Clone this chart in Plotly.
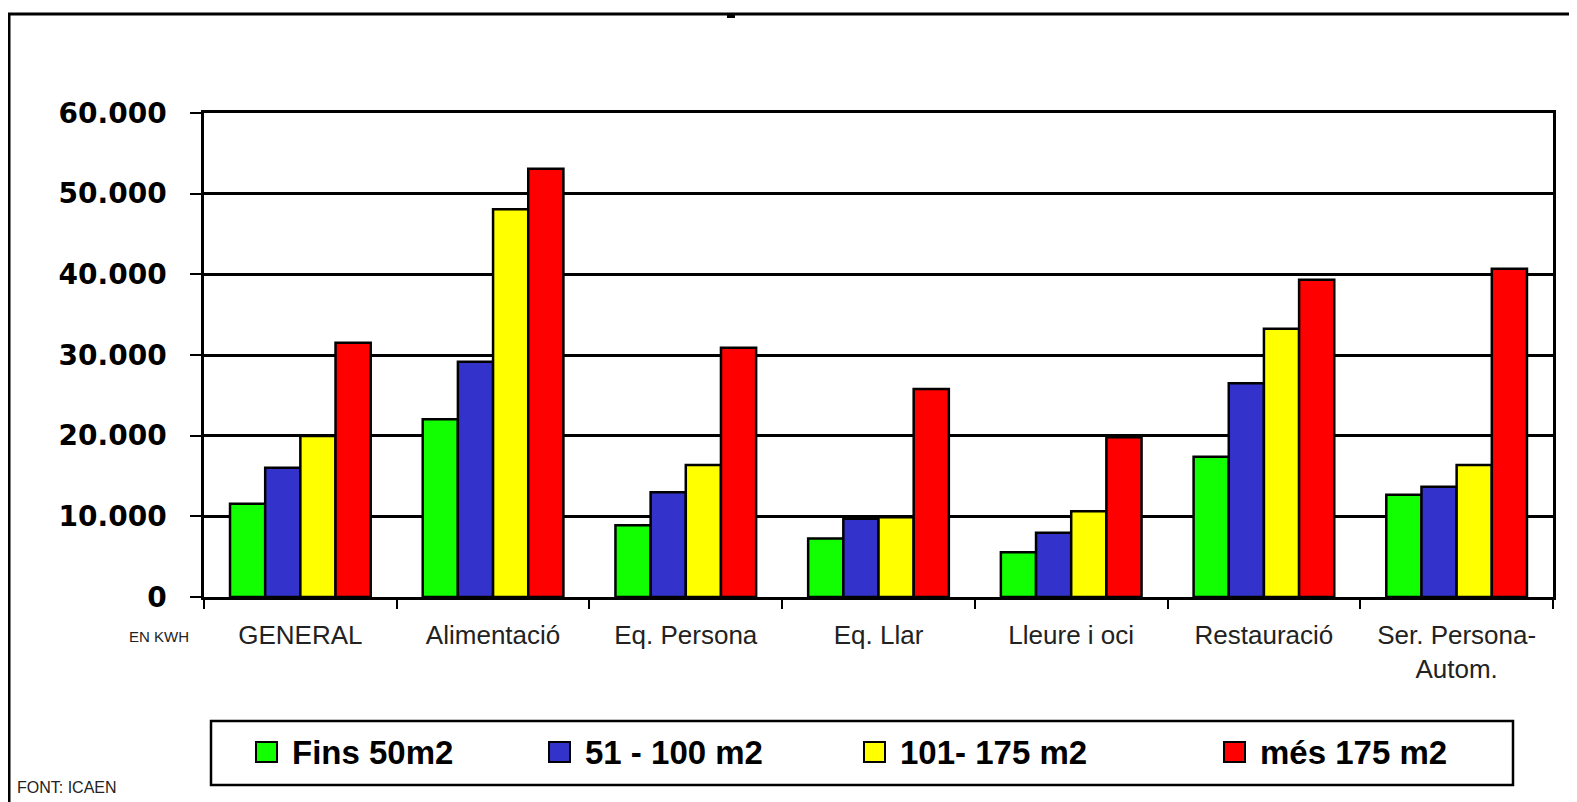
import plotly.graph_objects as go

# ---------------- data ----------------
categories = ["GENERAL", "Alimentació", "Eq. Persona", "Eq. Llar", "Lleure i oci",
              "Restauració", "Ser. Persona-<br>Autom."]
series_names = ["Fins 50m2", "51 - 100 m2", "101- 175 m2", "més 175 m2"]
fins_50 = [11570, 22020, 8900, 7260, 5560, 17390, 12670]
de_51_100 = [16030, 29170, 13000, 9700, 7970, 26500, 13660]
de_101_175 = [19960, 48060, 16350, 9900, 10620, 33250, 16360]
mes_175 = [31530, 53100, 30900, 25800, 19790, 39340, 40700]
series_values = [fins_50, de_51_100, de_101_175, mes_175]
colors = ["#11FF00", "#3333CC", "#FFFF00", "#FF0000"]
y_tickvals = [0, 10000, 20000, 30000, 40000, 50000, 60000]
y_ticktext = ["0", "10.000", "20.000", "30.000", "40.000", "50.000", "60.000"]

# ---------------- geometry ----------------
OFF = 8  # page body margin
W, H = 1577 - OFF, 802 - OFF
PL, PR, PT, PB = 204 - OFF, 1553 - OFF, 113 - OFF, 597 - OFF  # plot area (figure px)


def px(x):
    # x given in screenshot pixels
    return (x - OFF - PL) / (PR - PL)


def py(y):
    return (PB - (y - OFF)) / (PB - PT)


fig = go.Figure()
for name, vals, col in zip(series_names, series_values, colors):
    fig.add_trace(go.Bar(
        x=categories, y=vals, name=name,
        marker=dict(color=col, line=dict(color="black", width=2.5)),
        showlegend=False,
    ))

shapes = []
annotations = []

# outer frame (extends past right/bottom edges like the reference)
shapes.append(dict(type="rect", xref="paper", yref="paper",
                   x0=px(9), x1=px(1620), y0=py(14), y1=py(840),
                   line=dict(color="black", width=3), fillcolor="rgba(0,0,0,0)",
                   layer="above"))
# small mark on the top frame line
shapes.append(dict(type="rect", xref="paper", yref="paper",
                   x0=px(727), x1=px(735), y0=py(14), y1=py(18),
                   line=dict(width=0), fillcolor="black"))

# legend box
shapes.append(dict(type="rect", xref="paper", yref="paper",
                   x0=px(211), x1=px(1513), y0=py(721), y1=py(785),
                   line=dict(color="black", width=2.5), fillcolor="white"))
leg_sq_x = [256, 549, 864, 1224]
leg_cy = 752
for name, col, sx in zip(series_names, colors, leg_sq_x):
    shapes.append(dict(type="rect", xref="paper", yref="paper",
                       x0=px(sx), x1=px(sx + 21), y0=py(leg_cy + 10), y1=py(leg_cy - 10),
                       line=dict(color="black", width=2), fillcolor=col))
    annotations.append(dict(xref="paper", yref="paper", x=px(sx + 34), y=py(leg_cy),
                            text=name, showarrow=False, xanchor="left", yanchor="middle",
                            font=dict(family="Liberation Sans", size=33, color="black",
                                      weight="bold")))

annotations.append(dict(xref="paper", yref="paper", x=px(159), y=py(636),
                        text="EN KWH", showarrow=False, xanchor="center", yanchor="middle",
                        font=dict(family="Liberation Sans", size=15, color="#222")))
annotations.append(dict(xref="paper", yref="paper", x=px(15), y=py(787),
                        text="FONT: ICAEN", showarrow=False, xanchor="left", yanchor="middle",
                        font=dict(family="Liberation Sans", size=16, color="#222")))

fig.update_layout(
    width=W, height=H,
    margin=dict(l=PL, r=W - PR, t=PT, b=H - PB, pad=0),
    paper_bgcolor="white", plot_bgcolor="white",
    barmode="group", bargap=0.27, bargroupgap=0,
    shapes=shapes, annotations=annotations,
    showlegend=False,
)
fig.update_xaxes(
    showline=True, linecolor="black", linewidth=2.5, mirror=True,
    ticks="outside", tickson="boundaries", ticklen=9, tickwidth=2, tickcolor="black",
    tickfont=dict(family="Liberation Sans", size=26, color="#222"),
    ticklabelstandoff=13,
    showgrid=False,
)
fig.update_yaxes(
    range=[0, 60000], tickvals=y_tickvals, ticktext=y_ticktext,
    showline=True, linecolor="black", linewidth=2.5, mirror=True,
    ticks="outside", ticklen=11, tickwidth=2, tickcolor="black",
    tickfont=dict(family="DejaVu Sans", size=28, color="black", weight="bold"),
    ticklabelstandoff=18,
    showgrid=True, gridcolor="black", gridwidth=2.5,
    zeroline=False,
)

fig.write_html("out.html")
